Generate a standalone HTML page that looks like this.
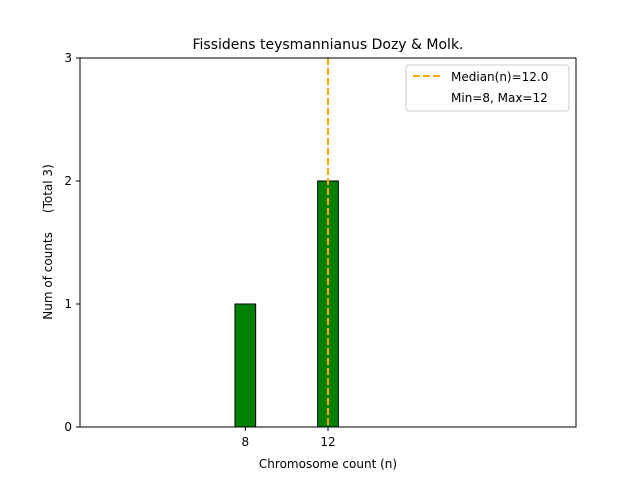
<!DOCTYPE html>
<html><head><meta charset="utf-8"><style>
body{margin:0;background:#fff;font-family:"Liberation Sans","DejaVu Sans",sans-serif}
</style></head><body>
<svg width="640" height="480" font-family="DejaVu Sans, Liberation Sans, sans-serif">
<g id="plot"></g>
</svg>
<script>
const categories=[8,12];
const counts=[1,2];
const yTicks=[0,1,2,3];
const median=12.0;
const xMin=0,xMax=24,yMax=3;
const L=80,R=576,T=58,B=427;
const sx=v=>L+(v-xMin)/(xMax-xMin)*(R-L);
const sy=v=>B-v/yMax*(B-T);
const ns="http://www.w3.org/2000/svg";
const g=document.getElementById('plot');
function mk(t,a,txt){const e=document.createElementNS(ns,t);for(const k in a)e.setAttribute(k,a[k]);if(txt!==undefined)e.textContent=txt;g.appendChild(e);return e;}
let e;
e=mk('rect',{x:L,y:T,width:R-L,height:B-T,fill:'#fff',stroke:'none'});


e=mk('line',{x1:L,y1:B,x2:sx(15.5),y2:B,stroke:'#000','stroke-width':1});


categories.forEach((c,i)=>{
 const b=mk('rect',{x:sx(c-0.5),y:sy(counts[i]),width:sx(c+0.5)-sx(c-0.5),height:sy(0)-sy(counts[i]),fill:'#008000',stroke:'#000','stroke-width':1});
 
 
 const t=mk('line',{x1:sx(c),y1:B,x2:sx(c),y2:B+4,stroke:'#000'});
 
 
 const l=mk('text',{x:sx(c),y:B+19,'font-size':12,'text-anchor':'middle'},String(c));
 
 
});
yTicks.forEach(v=>{
 const t=mk('line',{x1:L-4,y1:sy(v),x2:L,y2:sy(v),stroke:'#000'});
 
 
 const l=mk('text',{x:L-8,y:sy(v)+4,'font-size':12,'text-anchor':'end'},String(v));
 
 
});
e=mk('line',{x1:sx(median),y1:T,x2:sx(median),y2:B,stroke:'#FFA500','stroke-width':2,'stroke-dasharray':'7,3'});


e=mk('rect',{x:L,y:T,width:R-L,height:B-T,fill:'none',stroke:'#000','stroke-width':1});


e=mk('text',{x:(L+R)/2,y:49,'font-size':14,'text-anchor':'middle'},'Fissidens teysmannianus Dozy & Molk.');


e=mk('text',{x:(L+R)/2,y:468,'font-size':12,'text-anchor':'middle'},'Chromosome count (n)');


e=mk('text',{x:0,y:0,'font-size':12,'text-anchor':'middle',transform:'translate(52,242) rotate(-90)'},'Num of counts\u00a0\u00a0\u00a0\u00a0\u00a0(Total 3)');


e=mk('rect',{x:406,y:65,width:163,height:46,rx:3,fill:'#fff',stroke:'#ccc'});


e=mk('line',{x1:413,y1:76,x2:441,y2:76,stroke:'#FFA500','stroke-width':2,'stroke-dasharray':'7,3'});


e=mk('text',{x:451,y:81,'font-size':12},'Median(n)='+median.toFixed(1));


e=mk('text',{x:451,y:102,'font-size':12},'Min='+Math.min(...categories)+', Max='+Math.max(...categories));


</script>
</body></html>
